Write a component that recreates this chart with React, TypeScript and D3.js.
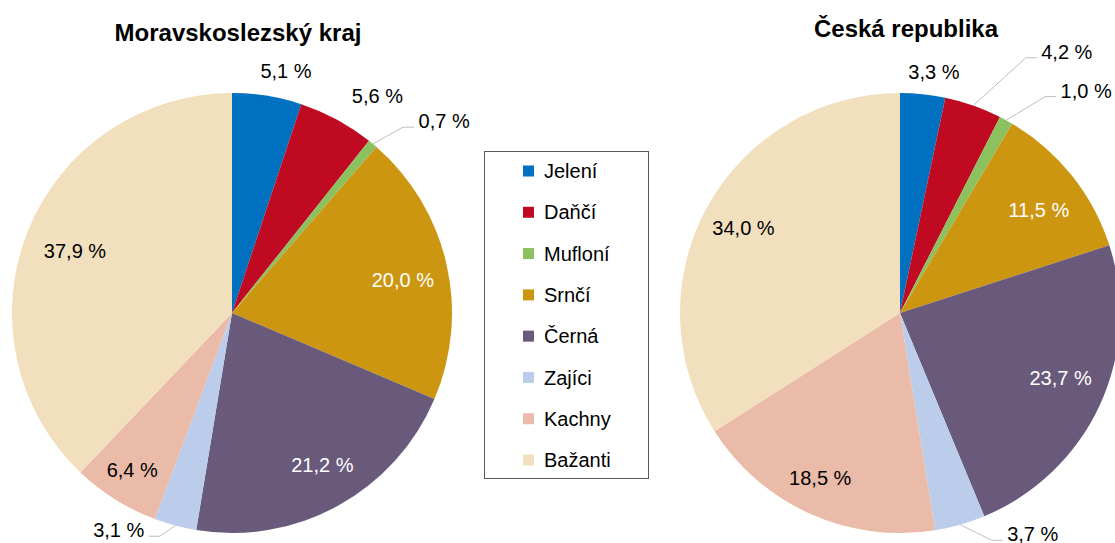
import * as d3 from 'd3';

const categories = ['Jelení', 'Daňčí', 'Mufloní', 'Srnčí', 'Černá', 'Zajíci', 'Kachny', 'Bažanti'];
const moravskoslezskyValues = [5.1, 5.6, 0.7, 20.0, 21.2, 3.1, 6.4, 37.9];
const ceskaRepublikaValues = [3.3, 4.2, 1.0, 11.5, 23.7, 3.7, 18.5, 34.0];
const colors = ['#0070C0', '#BF0A21', '#8BC15F', '#CD9610', '#695A7B', '#BBCDEB', '#EBBBA9', '#F1DFBD'];

// label placement: [radius, angle shift in degrees, white text?, leader line?]
type LabelPos = [number, number, boolean, boolean];
const leftLabels: LabelPos[] = [
  [248, 3.4, false, false],
  [261, 5.4, false, false],
  [286, 8.1, false, true],
  [174, 2.0, true, false],
  [177, -1.9, true, false],
  [245, 12.6, false, true],
  [186, 0.4, false, false],
  [169, -0.1, false, false],
];
const rightLabels: LabelPos[] = [
  [244, 2.05, false, false],
  [310, 13.1, false, true],
  [290, 11.1, false, true],
  [173, 2.05, true, false],
  [173, -2.9, true, false],
  [258, -15.1, false, true],
  [183, 1.7, false, false],
  [178, -0.3, false, false],
];

const W = 1115;
const H = 543;
const R = 220;
const FONT = 'Arial, "Liberation Sans", sans-serif';
const fmt = (v: number) => d3.format('.1f')(v).replace('.', ',') + ' %';

function Pie({ cx, cy, values, labels, title, titleY }: {
  cx: number; cy: number; values: number[]; labels: LabelPos[]; title: string; titleY: number;
}) {
  const pie = d3.pie<number>().sort(null).value(d => d);
  const arc = d3.arc<d3.PieArcDatum<number>>().innerRadius(0).outerRadius(R);
  const arcs = pie(values);
  return (
    <g>
      <text x={cx + 6} y={titleY} textAnchor="middle" fontFamily={FONT} fontWeight="bold" fontSize={24} fill="#000">
        {title}
      </text>
      <g transform={`translate(${cx},${cy})`}>
        {arcs.map((a, i) => (
          <path key={i} d={arc(a) || ''} fill={colors[i]} />
        ))}
        {arcs.map((a, i) => {
          const [lr, shift, white, leader] = labels[i];
          const mid = (a.startAngle + a.endAngle) / 2;
          const ang = mid + (shift * Math.PI) / 180;
          const lx = lr * Math.sin(ang);
          const ly = -lr * Math.cos(ang);
          const txt = fmt(values[i]);
          let line = null;
          if (leader) {
            const sx = R * Math.sin(mid);
            const sy = -R * Math.cos(mid);
            const half = 26;
            const side = lx > 0 ? -1 : 1;
            const ex = lx + side * (half + 4);
            const elx = ex + side * 11;
            const ey = ly + 6;
            line = (
              <polyline points={`${sx},${sy} ${elx},${ey} ${ex},${ey}`} fill="none" stroke="#BFBFBF" strokeWidth={1} />
            );
          }
          return (
            <g key={'l' + i}>
              {line}
              <text x={lx} y={ly} dy="0.36em" textAnchor="middle" fontFamily={FONT} fontSize={20} fill={white ? '#fff' : '#000'}>
                {txt}
              </text>
            </g>
          );
        })}
      </g>
    </g>
  );
}

export default function App() {
  const legendY = d3.scalePoint<string>().domain(categories).range([171, 460]);
  return (
    <svg width={W} height={H} style={{ position: 'absolute', left: 0, top: 0, background: '#fff' }}>
      <rect width={W} height={H} fill="#fff" />
      <Pie cx={232} cy={313} values={moravskoslezskyValues} labels={leftLabels} title="Moravskoslezský kraj" titleY={41} />
      <Pie cx={900} cy={313} values={ceskaRepublikaValues} labels={rightLabels} title="Česká republika" titleY={37} />
      <g>
        <rect x={484.5} y={151.5} width={164} height={327} fill="#fff" stroke="#595959" strokeWidth={1} />
        {categories.map((c, i) => {
          const y = legendY(c) as number;
          return (
            <g key={c}>
              <rect x={523} y={y - 5.5} width={11} height={11} fill={colors[i]} />
              <text x={544} y={y} dy="0.36em" fontFamily={FONT} fontSize={20} fill="#000">{c}</text>
            </g>
          );
        })}
      </g>
    </svg>
  );
}
